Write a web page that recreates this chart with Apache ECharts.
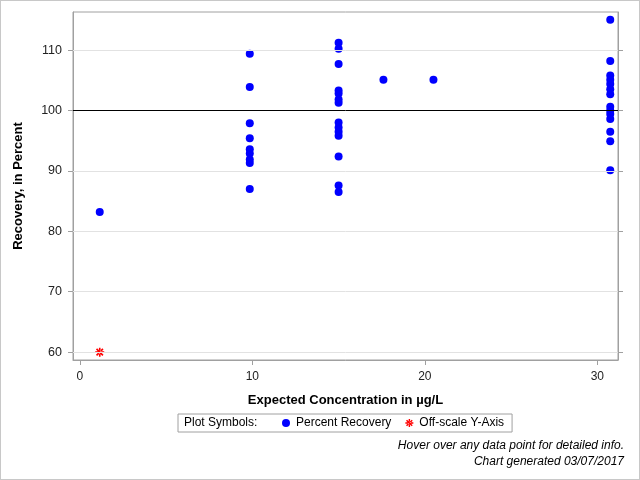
<!DOCTYPE html>
<html><head><meta charset="utf-8">
<script src="https://cdn.jsdelivr.net/npm/echarts@6/dist/echarts.min.js"></script>
<style>html,body{margin:0;padding:0;background:#fff}#c{width:640px;height:480px;box-sizing:border-box;border:1px solid #c8c8c8}</style>
</head><body><div id="c"></div>
<script>
const recoveryPoints = [
  [1.15, 83.2],
  [9.85, 109.4],[9.85, 103.9],[9.85, 97.9],[9.85, 95.4],[9.85, 93.6],[9.85, 92.9],[9.85, 91.9],[9.85, 91.3],[9.85, 87.0],
  [15, 111.2],[15, 110.2],[15, 107.7],[15, 103.3],[15, 102.8],[15, 101.8],[15, 101.3],[15, 98.0],[15, 97.2],[15, 96.5],[15, 95.8],[15, 92.4],[15, 87.6],[15, 86.5],
  [17.6, 105.1],
  [20.5, 105.1],
  [30.75, 115.0],[30.75, 108.2],[30.75, 105.8],[30.75, 105.1],[30.75, 104.4],[30.75, 103.5],[30.75, 102.7],[30.75, 100.6],[30.75, 100.0],[30.75, 99.4],[30.75, 98.6],[30.75, 96.5],[30.75, 94.9],[30.75, 90.1]
];
const offScalePoints = [[1.15, 60]];
const yTicks = [60, 70, 80, 90, 100, 110];
const xTicks = [0, 10, 20, 30];
const referenceValue = 100;

const font = '"Liberation Sans", Arial, sans-serif';
const star = 'path://M-0.9,-5 L0.9,-5 L0.9,5 L-0.9,5 Z M-5,-0.9 L5,-0.9 L5,0.9 L-5,0.9 Z M-4.2,-2.9 L-2.9,-4.2 L4.2,2.9 L2.9,4.2 Z M-4.2,2.9 L-2.9,4.2 L4.2,-2.9 L2.9,-4.2 Z';
const chart = echarts.init(document.getElementById('c'));
chart.setOption({
  animation: false,
  grid: {left: 72, right: 21, top: 11, bottom: 119, show: true, borderColor: '#a0a0a0', borderWidth: 1},
  xAxis: {
    type: 'value', min: -0.4, max: 31.2,
    name: 'Expected Concentration in µg/L', nameLocation: 'middle', nameGap: 34,
    nameTextStyle: {fontFamily: font, fontSize: 13, fontWeight: 'bold', color: '#000'},
    axisLine: {show: true, onZero: false, lineStyle: {color: '#a0a0a0'}},
    axisTick: {show: true, length: 5, lineStyle: {color: '#a0a0a0'}, customValues: xTicks},
    axisLabel: {fontFamily: font, fontSize: 12, color: '#222', margin: 11, customValues: xTicks},
    splitLine: {show: false}
  },
  yAxis: [{
    type: 'value', min: 58.7, max: 116.3,
    name: 'Recovery, in Percent', nameLocation: 'middle', nameGap: 48, nameRotate: 90,
    nameTextStyle: {fontFamily: font, fontSize: 13, fontWeight: 'bold', color: '#000'},
    axisLine: {show: true, onZero: false, lineStyle: {color: '#a0a0a0'}},
    axisTick: {show: true, length: 5, lineStyle: {color: '#a0a0a0'}, customValues: yTicks},
    axisLabel: {fontFamily: font, fontSize: 12.5, color: '#222', margin: 11, customValues: yTicks},
    splitLine: {show: false}
  },{
    type: 'value', min: 58.7, max: 116.3, position: 'right',
    axisLine: {show: true, onZero: false, lineStyle: {color: '#a0a0a0'}},
    axisTick: {show: true, length: 5, lineStyle: {color: '#a0a0a0'}, customValues: yTicks},
    axisLabel: {show: false},
    splitLine: {show: false}
  }],
  legend: {
    left: 177, top: 413, orient: 'horizontal',
    padding: [3, 8, 3, 104], itemGap: 14, itemWidth: 8, itemHeight: 8,
    borderColor: '#a0a0a0', borderWidth: 1,
    textStyle: {fontFamily: font, fontSize: 12, color: '#000', padding: [0, 0, 0, 1]},
    data: [{name: 'Percent Recovery', icon: 'circle'}, {name: 'Off-scale Y-Axis', icon: star}]
  },
  graphic: [
    {type: 'text', left: 183, top: 416, style: {text: 'Plot Symbols:', font: '12px ' + font, fill: '#000'}},
    {type: 'text', right: 15, top: 439, style: {text: 'Hover over any data point for detailed info.', font: 'italic 12px ' + font, fill: '#000'}},
    {type: 'text', right: 15, top: 455, style: {text: 'Chart generated 03/07/2017', font: 'italic 12px ' + font, fill: '#000'}}
  ],
  series: [
    {
      type: 'scatter', name: 'grid', data: [], silent: true,
      markLine: {silent: true, symbol: 'none', label: {show: false},
        lineStyle: {color: '#e2e2e2', width: 1, type: 'solid'},
        data: yTicks.filter(v => v !== referenceValue).map(v => ({yAxis: v}))}
    },
    {
      type: 'scatter', name: 'Percent Recovery', data: recoveryPoints,
      symbol: 'circle', symbolSize: 8, itemStyle: {color: '#0000ff', opacity: 1},
      markLine: {silent: true, symbol: 'none', label: {show: false},
        lineStyle: {color: '#000', width: 1, type: 'solid'},
        data: [{yAxis: referenceValue}]}
    },
    {
      type: 'scatter', name: 'Off-scale Y-Axis', data: offScalePoints,
      symbol: star, symbolSize: 9, itemStyle: {color: '#ff0000', opacity: 1}
    }
  ]
});
</script></body></html>
